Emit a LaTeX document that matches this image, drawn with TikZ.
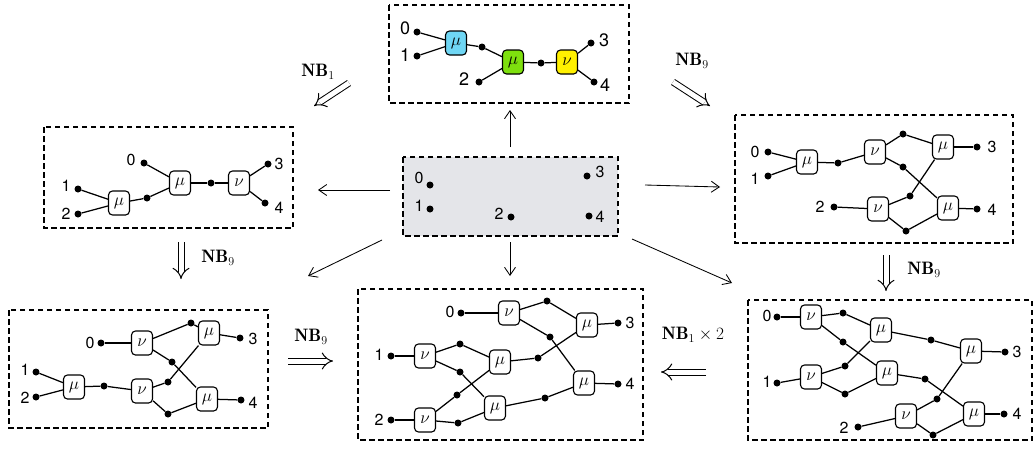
\documentclass[tikz,border=0pt]{standalone}
\usepackage{fontspec}
\newfontfamily\labfont{TeX Gyre Heros}
\usetikzlibrary{arrows.meta}
\definecolor{cyanB}{HTML}{6FD6F4}
\definecolor{greenB}{HTML}{7EE00E}
\definecolor{yellowB}{HTML}{FFF000}
\definecolor{panelgray}{HTML}{E4E5E9}
\begin{document}
\begin{tikzpicture}[x=1pt,y=-1pt,
 panel/.style={draw, dash pattern=on 5.5pt off 3.5pt, line width=1.1pt},
 gbox/.style={draw, rounded corners=4pt, minimum width=21pt, minimum height=24pt, inner sep=0pt, line width=1.1pt, fill=white, font=\fontsize{19}{19}\selectfont},
 dot/.style={circle, fill=black, inner sep=0pt, minimum size=7pt},
 lab/.style={font=\labfont\fontsize{16}{16}\selectfont, inner sep=0pt},
 tlab/.style={font=\labfont\fontsize{18}{18}\selectfont, inner sep=0pt},
 wire/.style={line width=1.25pt},
 arr/.style={line width=0.85pt, -{Straight Barb[length=8pt,width=11pt]}},
 imp/.style={line width=1pt, double=white, double distance=5pt, -{Implies}},
 nb/.style={font=\fontsize{18}{18}\selectfont, inner sep=0pt}]
\useasboundingbox (0,0) rectangle (1035,448);

% ---------- panels ----------
\draw[panel] (389,5) rectangle (629,103);
\draw[panel] (44,127) rectangle (293,228);
\draw[panel] (735,115) rectangle (1013,243);
\draw[panel, fill=panelgray] (403,157) rectangle (618,236);
\draw[panel] (9,310) rectangle (268,428);
\draw[panel] (358,289) rectangle (643,440);
\draw[panel] (748,300) rectangle (1032,440);

% ---------- top panel ----------
\node[gbox, fill=cyanB] (T1) at (456,43) {$\mu$};
\node[gbox, fill=greenB] (T2) at (513,62) {$\mu$};
\node[gbox, fill=yellowB] (T3) at (567,62) {$\nu$};
\node[dot] (T0) at (417,32) {};
\node[dot] (Td1) at (417,56) {};
\node[dot] (Ta) at (482,47) {};
\node[dot] (Td2) at (479,82) {};
\node[dot] (Tb) at (541,63) {};
\node[dot] (Td3) at (591,43) {};
\node[dot] (Td4) at (594,82) {};
\node[tlab] (Tl0) at (405,28) {0};
\node[tlab] (Tl1) at (405,55) {1};
\node[tlab] (Tl2) at (464,79) {2};
\node[tlab] (Tl3) at (604,40) {3};
\node[tlab] (Tl4) at (605,85) {4};
\draw[wire] (T0) -- (T1);
\draw[wire] (Td1) -- (T1);
\draw[wire] (T1) -- (Ta) -- (T2);
\draw[wire] (Td2) -- (T2);
\draw[wire] (T2) -- (Tb) -- (T3);
\draw[wire] (T3) -- (Td3);
\draw[wire] (T3) -- (Td4);

% ---------- left panel ----------
\node[gbox] (L1) at (180,183) {$\mu$};
\node[gbox] (L2) at (239,183) {$\nu$};
\node[gbox] (L3) at (119,203) {$\mu$};
\node[dot] (L0) at (144,163) {};
\node[dot] (Lm) at (211,183) {};
\node[dot] (Ld3) at (268,164) {};
\node[dot] (Ld4) at (265,203) {};
\node[dot] (Ld1) at (78,189) {};
\node[dot] (Ld2) at (78,214) {};
\node[dot] (Lb) at (147,198) {};
\node[lab] (Ll0) at (131,160) {0};
\node[lab] (Ll3) at (279,164) {3};
\node[lab] (Ll4) at (279,208) {4};
\node[lab] (Ll1) at (66,186) {1};
\node[lab] (Ll2) at (66,214) {2};
\draw[wire] (L0) -- (L1);
\draw[wire] (L1) -- (Lm) -- (L2);
\draw[wire] (L2) -- (Ld3);
\draw[wire] (L2) -- (Ld4);
\draw[wire] (Ld1) -- (L3);
\draw[wire] (Ld2) -- (L3);
\draw[wire] (L3) -- (Lb) -- (L1);

% ---------- right panel ----------
\node[gbox] (R1) at (807,162) {$\mu$};
\node[gbox] (R2) at (875,152) {$\nu$};
\node[gbox] (R3) at (943,147) {$\mu$};
\node[gbox] (R4) at (878,209) {$\nu$};
\node[gbox] (R5) at (948,208) {$\mu$};
\node[dot] (R0) at (768,152) {};
\node[dot] (Rd1) at (768,176) {};
\node[dot] (Ra) at (838,163) {};
\node[dot] (Rb) at (903,134) {};
\node[dot] (Rc) at (903,167) {};
\node[dot] (Rd3) at (977,147) {};
\node[dot] (Rd2) at (834,207) {};
\node[dot] (Rd) at (910,196) {};
\node[dot] (Re) at (906,231) {};
\node[dot] (Rd4) at (977,209) {};
\node[lab] (Rl0) at (755,152) {0};
\node[lab] (Rl1) at (755,179) {1};
\node[lab] (Rl3) at (992,147) {3};
\node[lab] (Rl2) at (820,207) {2};
\node[lab] (Rl4) at (992,210) {4};
\draw[wire] (R0) -- (R1);
\draw[wire] (Rd1) -- (R1);
\draw[wire] (R1) -- (Ra) -- (R2);
\draw[wire] (R2) -- (Rb) -- (R3);
\draw[wire] (R2) -- (Rc) -- (R5);
\draw[wire] (R3) -- (Rd3);
\draw[wire] (Rd2) -- (R4);
\draw[wire] (R4) -- (Rd) -- (R3);
\draw[wire] (R4) -- (Re) -- (R5);
\draw[wire] (R5) -- (Rd4);

% ---------- centre panel ----------
\node[dot] (C0) at (430,185) {};
\node[dot] (C1) at (430,209) {};
\node[dot] (C2) at (511,217) {};
\node[dot] (C3) at (587,176) {};
\node[dot] (C4) at (589,216) {};
\node[lab] (Cl0) at (419,178) {0};
\node[lab] (Cl1) at (419,206) {1};
\node[lab] (Cl2) at (499,214) {2};
\node[lab] (Cl3) at (600,172) {3};
\node[lab] (Cl4) at (600,217) {4};

% ---------- bottom-left panel ----------
\node[gbox] (BL1) at (142,343) {$\nu$};
\node[gbox] (BL2) at (209,333) {$\mu$};
\node[gbox] (BL3) at (142,391) {$\nu$};
\node[gbox] (BL4) at (207,399) {$\mu$};
\node[gbox] (BL5) at (74,387) {$\mu$};
\node[dot] (BL0) at (101,343) {};
\node[dot] (BLa) at (191,323) {};
\node[dot] (BLd3) at (240,338) {};
\node[dot] (BLb) at (172,362) {};
\node[dot] (BLc) at (168,382) {};
\node[dot] (BLd) at (168,414) {};
\node[dot] (BLd4) at (241,400) {};
\node[dot] (BLd1) at (36,372) {};
\node[dot] (BLd2) at (36,397) {};
\node[dot] (BLe) at (104,386) {};
\node[lab] (BLl0) at (90,343) {0};
\node[lab] (BLl3) at (253,339) {3};
\node[lab] (BLl4) at (253,403) {4};
\node[lab] (BLl1) at (25,370) {1};
\node[lab] (BLl2) at (25,398) {2};
\draw[wire] (BL0) -- (BL1);
\draw[wire] (BL1) -- (BLa) -- (BL2);
\draw[wire] (BL1) -- (BLb) -- (BL4);
\draw[wire] (BL3) -- (BLc) -- (BL2);
\draw[wire] (BL3) -- (BLd) -- (BL4);
\draw[wire] (BL2) -- (BLd3);
\draw[wire] (BL4) -- (BLd4);
\draw[wire] (BLd1) -- (BL5);
\draw[wire] (BLd2) -- (BL5);
\draw[wire] (BL5) -- (BLe) -- (BL3);

% ---------- bottom-centre panel ----------
\node[gbox] (BC1) at (509,313) {$\nu$};
\node[gbox] (BC2) at (587,325) {$\mu$};
\node[gbox] (BC3) at (425,356) {$\nu$};
\node[gbox] (BC4) at (500,362) {$\mu$};
\node[gbox] (BC5) at (425,420) {$\nu$};
\node[gbox] (BC6) at (495,408) {$\mu$};
\node[gbox] (BC7) at (584,383) {$\mu$};
\node[dot] (BC0) at (461,313) {};
\node[dot] (BCa) at (547,301) {};
\node[dot] (BCb) at (550,337) {};
\node[dot] (BCd3) at (618,323) {};
\node[dot] (BCd1) at (391,356) {};
\node[dot] (BCc) at (460,344) {};
\node[dot] (BCd) at (460,372) {};
\node[dot] (BCe) at (538,358) {};
\node[dot] (BCd2) at (391,420) {};
\node[dot] (BCf) at (457,395) {};
\node[dot] (BCg) at (458,423) {};
\node[dot] (BCh) at (545,398) {};
\node[dot] (BCd4) at (618,384) {};
\node[lab] (BCl0) at (450,312) {0};
\node[lab] (BCl3) at (630,323) {3};
\node[lab] (BCl1) at (379,355) {1};
\node[lab] (BCl2) at (379,420) {2};
\node[lab] (BCl4) at (630,384) {4};
\draw[wire] (BC0) -- (BC1);
\draw[wire] (BC1) -- (BCa) -- (BC2);
\draw[wire] (BC1) -- (BCb) -- (BC7);
\draw[wire] (BC2) -- (BCd3);
\draw[wire] (BCd1) -- (BC3);
\draw[wire] (BC3) -- (BCc) -- (BC4);
\draw[wire] (BC3) -- (BCd) -- (BC6);
\draw[wire] (BC4) -- (BCe) -- (BC2);
\draw[wire] (BCd2) -- (BC5);
\draw[wire] (BC5) -- (BCf) -- (BC4);
\draw[wire] (BC5) -- (BCg) -- (BC6);
\draw[wire] (BC6) -- (BCh) -- (BC7);
\draw[wire] (BC7) -- (BCd4);

% ---------- bottom-right panel ----------
\node[gbox] (BR1) at (811,317) {$\nu$};
\node[gbox] (BR2) at (881,330) {$\mu$};
\node[gbox] (BR3) at (971,351) {$\mu$};
\node[gbox] (BR4) at (811,377) {$\nu$};
\node[gbox] (BR5) at (887,373) {$\mu$};
\node[gbox] (BR6) at (906,416) {$\nu$};
\node[gbox] (BR7) at (974,414) {$\mu$};
\node[dot] (BR0) at (777,317) {};
\node[dot] (BRa) at (843,313) {};
\node[dot] (BRb) at (843,342) {};
\node[dot] (BRc) at (931,340) {};
\node[dot] (BRd3) at (1005,352) {};
\node[dot] (BRd1) at (777,383) {};
\node[dot] (BRd) at (845,366) {};
\node[dot] (BRe) at (845,394) {};
\node[dot] (BRf) at (925,379) {};
\node[dot] (BRg) at (937,399) {};
\node[dot] (BRd2) at (858,427) {};
\node[dot] (BRh) at (933,435) {};
\node[dot] (BRd4) at (1004,414) {};
\node[lab] (BRl0) at (767,316) {0};
\node[lab] (BRl3) at (1017,352) {3};
\node[lab] (BRl1) at (767,382) {1};
\node[lab] (BRl2) at (844,428) {2};
\node[lab] (BRl4) at (1017,414) {4};
\draw[wire] (BR0) -- (BR1);
\draw[wire] (BR1) -- (BRa) -- (BR2);
\draw[wire] (BR1) -- (BRb) -- (BR5);
\draw[wire] (BRd1) -- (BR4);
\draw[wire] (BR4) -- (BRd) -- (BR2);
\draw[wire] (BR4) -- (BRe) -- (BR5);
\draw[wire] (BR2) -- (BRc) -- (BR3);
\draw[wire] (BR3) -- (BRd3);
\draw[wire] (BR5) -- (BRf) -- (BR7);
\draw[wire] (BRd2) -- (BR6);
\draw[wire] (BR6) -- (BRg) -- (BR3);
\draw[wire] (BR6) -- (BRh) -- (BR7);
\draw[wire] (BR7) -- (BRd4);

% ---------- arrows from the centre ----------
\coordinate (aUs) at (510,147); \coordinate (aUe) at (510,110);
\coordinate (aLs) at (390,190); \coordinate (aLe) at (318,190);
\coordinate (aRs) at (645,185); \coordinate (aRe) at (720,187);
\coordinate (aDs) at (510,242); \coordinate (aDe) at (510,276);
\coordinate (aDLs) at (382,240); \coordinate (aDLe) at (308,276);
\coordinate (aDRs) at (632,239); \coordinate (aDRe) at (732,283);
\draw[arr] (aUs) -- (aUe);
\draw[arr] (aLs) -- (aLe);
\draw[arr] (aRs) -- (aRe);
\draw[arr] (aDs) -- (aDe);
\draw[arr] (aDLs) -- (aDLe);
\draw[arr] (aDRs) -- (aDRe);

% ---------- rewriting steps ----------
\coordinate (i1s) at (349,83); \coordinate (i1e) at (314,106);
\draw[imp] (i1s) -- (i1e);
\node[nb] (n1) at (318,72) {$\mathbf{NB}_1$};
\coordinate (i2s) at (673,82); \coordinate (i2e) at (710,106);
\draw[imp] (i2s) -- (i2e);
\node[nb] (n2) at (692,61) {$\mathbf{NB}_9$};
\coordinate (i3s) at (181,242); \coordinate (i3e) at (181,279);
\draw[imp] (i3s) -- (i3e);
\node[nb] (n3) at (218,258) {$\mathbf{NB}_9$};
\coordinate (i4s) at (886,255); \coordinate (i4e) at (886,291);
\draw[imp] (i4s) -- (i4e);
\node[nb] (n4) at (924,270) {$\mathbf{NB}_9$};
\coordinate (i5s) at (288,361); \coordinate (i5e) at (333,361);
\draw[imp] (i5s) -- (i5e);
\node[nb] (n5) at (311,337) {$\mathbf{NB}_9$};
\coordinate (i6s) at (706,372); \coordinate (i6e) at (661,372);
\draw[imp] (i6s) -- (i6e);
\node[nb] (n6) at (693,335) {$\mathbf{NB}_1\times 2$};
\end{tikzpicture}
\end{document}
